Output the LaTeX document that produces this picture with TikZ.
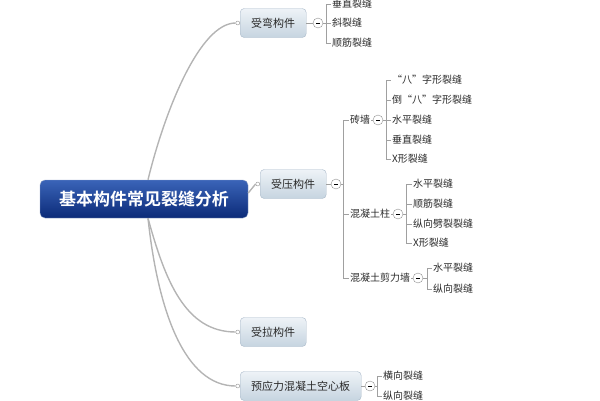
\documentclass[tikz,border=0pt]{standalone}
\usepackage{fontspec}
\setmainfont{Noto Sans CJK SC}[BoldFont={Noto Sans CJK SC Bold}]
\definecolor{roottop}{HTML}{3A64B8}
\definecolor{rootbot}{HTML}{0B2A78}
\definecolor{rootedge}{HTML}{8FA3C8}
\definecolor{boxtop}{HTML}{EEF3F7}
\definecolor{boxbot}{HTML}{C6D4E0}
\definecolor{boxedge}{HTML}{A8B8C8}
\definecolor{linkgray}{HTML}{B4B4B4}
\definecolor{bargray}{HTML}{A0A0A0}
\definecolor{foldgray}{HTML}{909090}
\definecolor{textgray}{HTML}{2A2A2A}
\tikzset{
	rootbox/.style={draw=rootedge,rounded corners=5pt,top color=roottop,bottom color=rootbot,text=white,font=\fontsize{17}{17}\selectfont\bfseries,minimum width=208pt,minimum height=38pt},
	branchbox/.style={draw=boxedge,rounded corners=4pt,top color=boxtop,bottom color=boxbot,text=textgray,font=\fontsize{11}{11}\selectfont,inner xsep=11pt,minimum height=29pt,anchor=west},
	leaf/.style={font=\fontsize{10}{10}\selectfont,text=textgray,inner sep=1pt,anchor=west},
	fold/.style={circle,draw=foldgray,fill=white,inner sep=0pt,minimum size=10pt},
	joint/.style={circle,draw=foldgray,fill=white,inner sep=0pt,minimum size=4pt,anchor=east},
	link/.style={draw=linkgray,line width=1.4pt},
	bar/.style={draw=bargray,line width=0.6pt}
}
\newcommand{\foldmark}{\rule{4pt}{0.8pt}}
\begin{document}
\begin{tikzpicture}[x=1pt,y=-1pt]
		\useasboundingbox (0,0) rectangle (600,400);
		\clip (0,0) rectangle (600,400);
		\node[rootbox] (root) at (144,199) {基本构件常见裂缝分析};
		\node[branchbox] (bend) at (240,23) {受弯构件};
		\node[branchbox] (press) at (260,184) {受压构件};
		\node[branchbox] (pull) at (240,332) {受拉构件};
		\node[branchbox] (slab) at (240,386) {预应力混凝土空心板};
		\node[joint] (bendin) at (bend.west) {};
		\node[joint] (pressin) at (press.west) {};
		\node[joint] (pullin) at (pull.west) {};
		\node[joint] (slabin) at (slab.west) {};
		\coordinate (rtop) at ([xshift=4pt]root.north);
		\coordinate (rbot) at ([xshift=4pt]root.south);
		\draw[link] (rtop) .. controls (165,110) and (200,23) .. (bendin.west);
		\draw[link] ([yshift=6pt]root.east) -- (pressin.west);
		\draw[link] (rbot) .. controls (165,280) and (185,332) .. (pullin.west);
		\draw[link] (rbot) .. controls (158,312) and (185,386) .. (slabin.west);

		\node[fold] (bendfold) at (318,23) {\foldmark};
		\coordinate (bendbar) at (326,23);
		\foreach \name/\y/\txt in {bendv/4/垂直裂缝,bendx/23/斜裂缝,bendl/43/顺筋裂缝}
			\node[leaf] (\name) at (331,\y) {\txt};
		\draw[bar] (bend.east) -- (bendfold.west);
		\draw[bar] (bendfold.east) -- (bendbar);
		\draw[bar] (bendv.west -| bendbar) -- (bendl.west -| bendbar);
		\foreach \name in {bendv,bendx,bendl}
			\draw[bar] (\name.west -| bendbar) -- (\name.west);

		\node[fold] (pressfold) at (336,184) {\foldmark};
		\coordinate (pressbar) at (343,184);
		\node[leaf] (brick) at (349,120) {砖墙};
		\node[leaf] (column) at (349,214) {混凝土柱};
		\node[leaf] (shear) at (349,278) {混凝土剪力墙};
		\draw[bar] (press.east) -- (pressfold.west);
		\draw[bar] (pressfold.east) -- (pressbar);
		\draw[bar] (brick.west -| pressbar) -- (shear.west -| pressbar);
		\foreach \name in {brick,column,shear}
			\draw[bar] (\name.west -| pressbar) -- (\name.west);

		\node[fold] (brickfold) at (378,120) {\foldmark};
		\coordinate (brickbar) at (386,120);
		\foreach \name/\y/\txt in {brickba/80/“八”字形裂缝,brickdao/100/倒“八”字形裂缝,brickh/120/水平裂缝,brickv/140/垂直裂缝,brickx/159/X形裂缝}
			\node[leaf] (\name) at (391,\y) {\txt};
		\draw[bar] (brick.east) -- (brickfold.west);
		\draw[bar] (brickfold.east) -- (brickbar);
		\draw[bar] (brickba.west -| brickbar) -- (brickx.west -| brickbar);
		\foreach \name in {brickba,brickdao,brickh,brickv,brickx}
			\draw[bar] (\name.west -| brickbar) -- (\name.west);

		\node[fold] (columnfold) at (398,214) {\foldmark};
		\coordinate (columnbar) at (406,214);
		\foreach \name/\y/\txt in {columnh/184/水平裂缝,columnl/204/顺筋裂缝,columns/224/纵向劈裂裂缝,columnx/243/X形裂缝}
			\node[leaf] (\name) at (412,\y) {\txt};
		\draw[bar] (column.east) -- (columnfold.west);
		\draw[bar] (columnfold.east) -- (columnbar);
		\draw[bar] (columnh.west -| columnbar) -- (columnx.west -| columnbar);
		\foreach \name in {columnh,columnl,columns,columnx}
			\draw[bar] (\name.west -| columnbar) -- (\name.west);

		\node[fold] (shearfold) at (418,278) {\foldmark};
		\coordinate (shearbar) at (427,278);
		\foreach \name/\y/\txt in {shearh/268/水平裂缝,shearv/289/纵向裂缝}
			\node[leaf] (\name) at (432,\y) {\txt};
		\draw[bar] (shear.east) -- (shearfold.west);
		\draw[bar] (shearfold.east) -- (shearbar);
		\draw[bar] (shearh.west -| shearbar) -- (shearv.west -| shearbar);
		\foreach \name in {shearh,shearv}
			\draw[bar] (\name.west -| shearbar) -- (\name.west);

		\node[fold] (slabfold) at (370,386) {\foldmark};
		\coordinate (slabbar) at (377,386);
		\foreach \name/\y/\txt in {slabh/376/横向裂缝,slabv/396/纵向裂缝}
			\node[leaf] (\name) at (382,\y) {\txt};
		\draw[bar] (slab.east) -- (slabfold.west);
		\draw[bar] (slabfold.east) -- (slabbar);
		\draw[bar] (slabh.west -| slabbar) -- (slabv.west -| slabbar);
		\foreach \name in {slabh,slabv}
			\draw[bar] (\name.west -| slabbar) -- (\name.west);
	\end{tikzpicture}
\end{document}
